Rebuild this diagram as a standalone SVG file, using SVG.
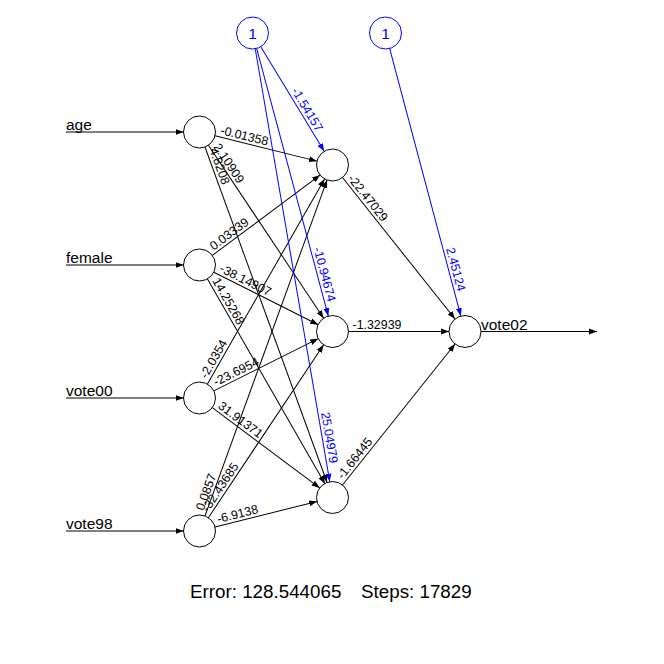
<svg xmlns="http://www.w3.org/2000/svg" width="664" height="664" viewBox="0 0 664 664">
  <style>
    text { font-family: "Liberation Sans", Arial, sans-serif; }
    .node { fill: none; stroke: #000; stroke-width: 1; }
    .bias { fill: none; stroke: #0000ff; stroke-width: 1; }
    .var { font-size: 15.5px; fill: #000; }
    .one { font-size: 15.5px; fill: #0000ff; text-anchor: middle; }
    .w { font-size: 12.4px; fill: #000; }
    .wb { font-size: 12.4px; fill: #0000ff; }
    .syn { stroke: #000; stroke-width: 1; fill: none; marker-end: url(#ah); }
    .synb { stroke: #0000ff; stroke-width: 1; fill: none; marker-end: url(#ahb); }
    .info { font-size: 18.8px; fill: #000; }
  </style>
  <defs>
    <marker id="ah" markerUnits="userSpaceOnUse" markerWidth="10" markerHeight="8" refX="8" refY="4" orient="auto">
      <path d="M0,1 L8,4 L0,7 Z" fill="#000"/>
    </marker>
    <marker id="ahb" markerUnits="userSpaceOnUse" markerWidth="10" markerHeight="8" refX="8" refY="4" orient="auto">
      <path d="M0,1 L8,4 L0,7 Z" fill="#0000ff"/>
    </marker>
  </defs>
  <rect width="664" height="664" fill="#fff"/>

  <!-- synapses: each group is placed at the source centre and rotated along the edge;
       line runs from source rim (16) to target rim (len-16); weight label sits just above it -->
  <g id="connectors">
    <!-- input feeds -->
    <line class="syn" x1="66" y1="132" x2="183.5" y2="132"/>
    <line class="syn" x1="66" y1="265" x2="183.5" y2="265"/>
    <line class="syn" x1="66" y1="398" x2="183.5" y2="398"/>
    <line class="syn" x1="66" y1="531" x2="183.5" y2="531"/>
    <!-- output feed -->
    <line class="syn" x1="481" y1="331.5" x2="597" y2="331.5"/>

    <!-- age -->
    <g transform="translate(199.5,132) rotate(13.93)"><line class="syn" x1="16" y1="0" x2="121" y2="0"/><text class="w" x="20" y="-3">-0.01358</text></g>
    <g transform="translate(199.5,132) rotate(56.31)"><line class="syn" x1="16" y1="0" x2="223.8" y2="0"/><text class="w" x="20" y="-3">2.10909</text></g>
    <g transform="translate(199.5,132) rotate(70.00)"><line class="syn" x1="16" y1="0" x2="373" y2="0"/><text class="w" x="20" y="-3">4.8208</text></g>
    <!-- female -->
    <g transform="translate(199.5,265) rotate(-36.7)"><line class="syn" x1="16" y1="0" x2="150.4" y2="0"/><text class="w" x="20" y="-3">0.03339</text></g>
    <g transform="translate(199.5,265) rotate(26.7)"><line class="syn" x1="16" y1="0" x2="132.9" y2="0"/><text class="w" x="20" y="-3">-38.14907</text></g>
    <g transform="translate(199.5,265) rotate(60.17)"><line class="syn" x1="16" y1="0" x2="252.2" y2="0"/><text class="w" x="20" y="-3">14.25268</text></g>
    <!-- vote00 -->
    <g transform="translate(199.5,398) rotate(-60.28)"><line class="syn" x1="16" y1="0" x2="252.3" y2="0"/><text class="w" x="20" y="-3">-2.0354</text></g>
    <g transform="translate(199.5,398) rotate(-26.57)"><line class="syn" x1="16" y1="0" x2="132.7" y2="0"/><text class="w" x="20" y="-3">-23.6954</text></g>
    <g transform="translate(199.5,398) rotate(36.80)"><line class="syn" x1="16" y1="0" x2="150.1" y2="0"/><text class="w" x="20" y="-3">31.91371</text></g>
    <!-- vote98 -->
    <g transform="translate(199.5,531) rotate(-70.03)"><line class="syn" x1="16" y1="0" x2="373.4" y2="0"/><text class="w" x="20" y="-3">0.0857</text></g>
    <g transform="translate(199.5,531) rotate(-56.31)"><line class="syn" x1="16" y1="0" x2="223.8" y2="0"/><text class="w" x="20" y="-3">-32.43685</text></g>
    <g transform="translate(199.5,531) rotate(-14.14)"><line class="syn" x1="16" y1="0" x2="121.2" y2="0"/><text class="w" x="20" y="-3">-6.9138</text></g>

    <!-- hidden bias -->
    <g transform="translate(252.5,33) rotate(58.78)"><line class="synb" x1="16" y1="0" x2="138.4" y2="0"/><text class="wb" x="69.4" y="-3">-1.54157</text></g>
    <g transform="translate(252.5,33) rotate(75.00)"><line class="synb" x1="16" y1="0" x2="293" y2="0"/><text class="wb" x="224" y="-3">-10.94674</text></g>
    <g transform="translate(252.5,33) rotate(80.23)"><line class="synb" x1="16" y1="0" x2="455.3" y2="0"/><text class="wb" x="386" y="-3">25.04979</text></g>

    <!-- hidden to output -->
    <g transform="translate(332.5,165) rotate(51.49)"><line class="syn" x1="16" y1="0" x2="196.8" y2="0"/><text class="w" x="20" y="-3">-22.47029</text></g>
    <g transform="translate(332.5,331.5)"><line class="syn" x1="16" y1="0" x2="116.5" y2="0"/><text class="w" x="20" y="-3">-1.32939</text></g>
    <g transform="translate(332.5,497.5) rotate(-51.40)"><line class="syn" x1="16" y1="0" x2="196.4" y2="0"/><text class="w" x="20" y="-3">-1.66445</text></g>

    <!-- output bias -->
    <g transform="translate(385.5,33) rotate(75.09)"><line class="synb" x1="16" y1="0" x2="292.9" y2="0"/><text class="wb" x="224" y="-3">2.45124</text></g>
  </g>

  <!-- input layer -->
  <g id="node-age"><circle class="node" cx="199.5" cy="132" r="16"/><text class="var" x="66" y="130">age</text></g>
  <g id="node-female"><circle class="node" cx="199.5" cy="265" r="16"/><text class="var" x="66" y="263">female</text></g>
  <g id="node-vote00"><circle class="node" cx="199.5" cy="398" r="16"/><text class="var" x="66" y="396">vote00</text></g>
  <g id="node-vote98"><circle class="node" cx="199.5" cy="531" r="16"/><text class="var" x="66" y="529">vote98</text></g>

  <!-- hidden layer -->
  <g id="node-h1"><circle class="node" cx="332.5" cy="165" r="16"/></g>
  <g id="node-h2"><circle class="node" cx="332.5" cy="331.5" r="16"/></g>
  <g id="node-h3"><circle class="node" cx="332.5" cy="497.5" r="16"/></g>

  <!-- output -->
  <g id="node-vote02"><circle class="node" cx="465" cy="331.5" r="16"/><text class="var" x="481" y="329.5">vote02</text></g>

  <!-- bias units -->
  <g id="node-bias1"><circle class="bias" cx="252.5" cy="33" r="16"/><text class="one" x="252.5" y="39">1</text></g>
  <g id="node-bias2"><circle class="bias" cx="385.5" cy="33" r="16"/><text class="one" x="385.5" y="39">1</text></g>

  <text class="info" y="598"><tspan x="190">Error: 128.544065</tspan><tspan x="361">Steps: 17829</tspan></text>
</svg>
